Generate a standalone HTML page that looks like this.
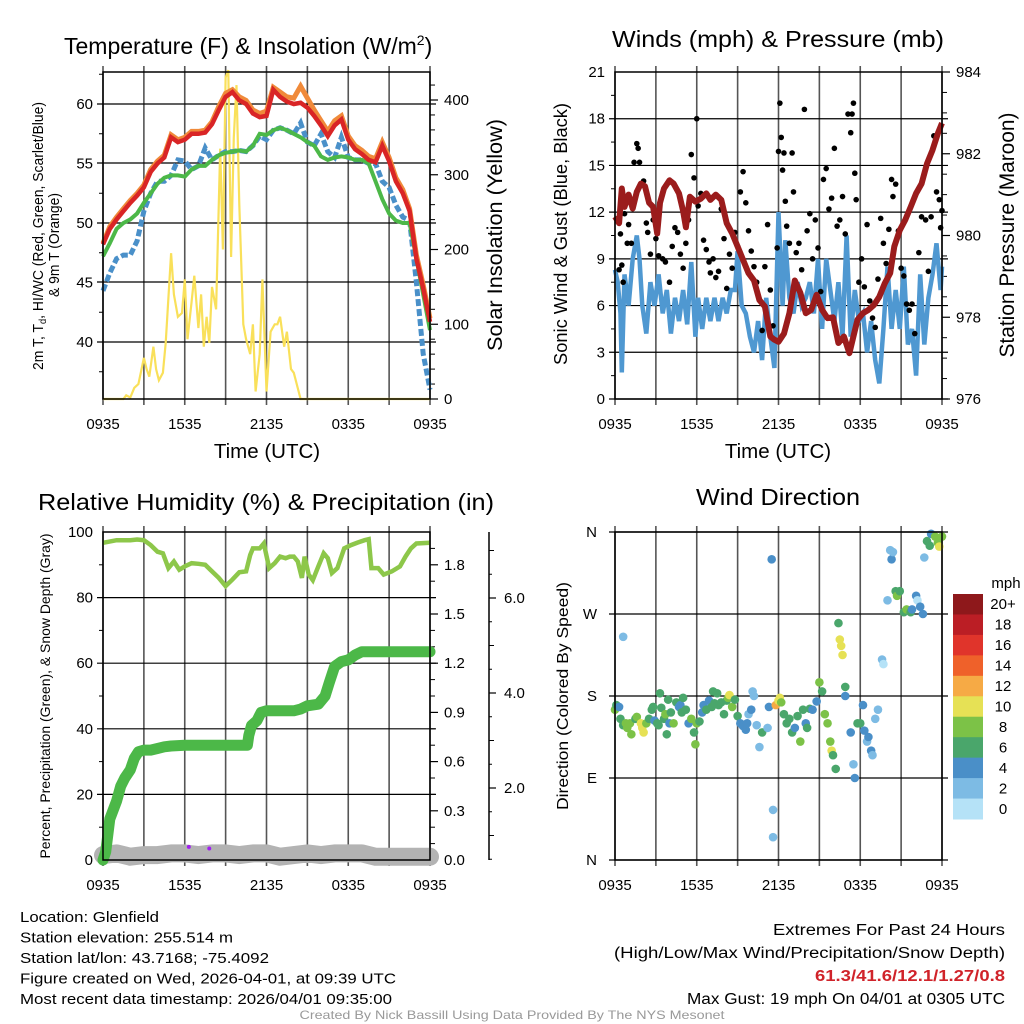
<!DOCTYPE html>
<html><head><meta charset="utf-8"><style>
body{margin:0;background:#fff;}
svg{display:block;font-family:"Liberation Sans",sans-serif;}
</style></head><body>
<svg id="c" width="1024" height="1024" viewBox="0 0 1024 1024"></svg>
<script>
// ---- data ----
const tempHours=[0,0.5,1,1.5,2,2.5,3,3.5,4,4.5,5,5.5,6,6.5,7,7.5,8,8.5,9,9.5,10,10.5,11,11.5,12,12.5,13,13.5,14,14.5,15,15.5,16,16.5,17,17.5,18,18.5,19,19.5,20,20.5,21,21.5,22,22.5,23,23.5,24];
const tempRed=[48.2,49.5,50.3,51,51.7,52.3,53,54.3,55,55.5,57.2,56.8,57,57.5,57.5,57.6,58.3,59.5,60.6,61,60.3,60,59.2,58.9,59,61.2,60.6,60.2,60,60.1,59.7,59,58.2,57.3,58.2,58.7,57,56.2,55.8,55.3,55.1,56.5,55.2,53.5,52.5,51,47,44.5,41.7];
const tempOrange=[48.3,49.7,50.5,51.2,51.9,52.5,53.2,54.5,55.2,55.7,57.4,57,57.2,57.7,57.7,57.8,58.5,59.8,60.9,61.2,60.6,60.3,59.5,59.2,59.4,61.4,61,60.6,60.5,61.5,60.5,59.5,58.6,57.7,58.6,59,57.3,56.5,56.1,55.6,55.4,56.8,55.5,53.8,52.8,51.2,47.3,44.8,42];
const tempGreen=[47.2,48.3,49.5,50,50.3,50.8,51.7,52.5,53.3,53.8,54,54,53.9,54.5,54.8,54.8,55.3,55.7,55.9,56,56.1,56,56.5,57.5,57.4,57.8,58,57.8,57.5,57.2,56.8,56.5,55.6,55.3,55.5,55.6,55.5,55.3,55.3,55,53.5,52,50.8,50.2,50,50,47,44,41];
const tempBlue=[44.3,45.8,47,47.3,47.3,48.5,51,52.5,53.5,53.5,54,55.3,55.2,54.5,54.8,56.3,55.3,55.7,56,56,56.1,56,56.5,57.3,57,57.8,58,57.8,57.5,58.4,56.8,56.5,57.5,56,55.5,57.2,55.5,55.3,55.3,55,55,53.5,53,51.5,50.5,50.2,45,39,36];
const solarHours=[0,1.5,1.7,2,2.3,2.6,3,3.2,3.4,3.7,3.9,4.1,4.4,4.6,5,5.2,5.5,5.8,6,6.2,6.5,6.7,7,7.2,7.4,7.6,7.8,8,8.3,8.6,8.8,9,9.2,9.4,9.6,9.8,10,10.3,10.5,10.8,11,11.2,11.5,11.7,12,12.3,12.6,12.8,13,13.3,13.5,13.8,14,14.5,24];
const solarValues=[0,0,5,2,15,20,55,40,30,70,40,25,35,75,195,140,110,115,160,80,130,165,95,140,70,110,75,150,120,335,200,430,440,190,350,420,260,100,80,60,100,10,60,160,10,90,100,100,110,70,90,40,35,0,0];
const windHours=[0,0.2,0.4,0.5,0.7,1,1.3,1.6,1.8,2,2.3,2.6,2.9,3.2,3.5,3.8,4.1,4.4,4.7,5,5.3,5.6,5.9,6.1,6.4,6.7,7,7.3,7.6,7.9,8.2,8.5,8.8,9,9.3,9.6,9.9,10.2,10.5,10.8,11.1,11.4,11.7,12,12.3,12.5,12.8,13.1,13.4,13.7,14,14.3,14.6,14.9,15.2,15.5,15.8,16.1,16.4,16.7,17,17.3,17.6,17.9,18.2,18.5,18.8,19.1,19.4,19.7,20,20.3,20.6,20.9,21.2,21.5,21.8,22.1,22.4,22.7,23,23.3,23.6,23.9,24];
const windSpeed=[8.3,7.5,5.5,1.7,8,6,9,10.5,9,6,4.2,7.5,6,8,5.5,7,4.2,6.5,5,7,4.8,8.8,4,6.5,4.5,6.5,5,6.5,5,6.5,5.5,7,7,9.5,6,5.5,4,3,5,2.5,6.5,4,2,12,6,10.2,6.5,5.5,7.5,6,6.5,7.5,5.5,9,4.5,9,7,5,7.5,4,10.5,4,7,5,5.5,3,5,2.5,1,4.5,8.5,4.5,7,4.5,8.5,3.5,4.5,1.5,8,3.5,6.5,8,10,7,8.5];
const presHours=[0,0.3,0.5,0.7,1,1.3,1.6,1.9,2.2,2.5,2.8,3.1,3.3,3.6,4,4.3,4.7,5,5.2,5.5,5.9,6.3,6.7,7,7.4,7.8,8.2,8.6,9,9.4,9.8,10.2,10.6,11,11.4,11.7,12,12.4,12.8,13.2,13.6,14,14.4,14.8,15.2,15.6,16,16.4,16.8,17.2,17.5,17.8,18.2,18.6,19,19.4,19.8,20.2,20.5,20.9,21.3,21.7,22.1,22.5,22.9,23.3,23.7,24];
const presValues=[980.46,980.3,981.15,980.7,981.0,980.66,981.07,981.27,981.2,980.8,980.7,980.05,980.8,981.15,981.35,981.27,981.03,980.6,980.2,980.95,980.83,980.9,981.03,980.87,981.0,980.87,980.3,980.05,979.73,979.4,979.08,978.9,978.42,978.26,977.53,977.45,977.4,977.6,978.1,978.9,978.6,978.1,978.18,978.55,978.18,977.98,978.0,977.37,977.53,977.12,977.53,977.94,978.1,978.18,978.3,978.5,978.83,979.08,979.73,980.13,980.38,980.7,981.03,981.27,981.76,982.09,982.5,982.75];
const gustHours=[0.3,0.4,0.5,0.6,0.7,0.9,1.0,1.2,1.4,1.6,1.7,1.8,1.9,2.1,2.3,2.4,2.6,2.8,3.0,3.2,3.5,3.7,4.0,4.2,4.4,4.6,4.8,5.0,5.2,5.4,5.6,5.8,6.0,6.1,6.3,6.5,6.7,6.9,7.0,7.2,7.4,7.6,7.8,8.0,8.2,8.4,8.6,8.8,9.0,9.2,9.4,9.6,9.8,10.0,10.2,10.4,10.6,10.8,11.0,11.2,11.4,11.6,11.9,12.0,12.1,12.2,12.3,12.4,12.5,12.6,12.8,13.0,13.1,13.3,13.5,13.7,13.9,14.1,14.3,14.5,14.7,14.9,15.1,15.3,15.5,15.7,15.9,16.1,16.3,16.5,16.7,16.9,17.1,17.3,17.4,17.5,17.6,17.7,17.9,18.1,18.3,18.5,18.7,18.9,19.1,19.3,19.5,19.7,19.9,20.1,20.3,20.4,20.6,20.8,21.0,21.2,21.4,21.6,21.8,22.0,22.3,22.5,22.8,23.0,23.2,23.4,23.6,23.8,24.0,23.9];
const gustSpeed=[8.3,10.6,8.6,7.5,11.9,10,11.2,10,15.2,16.4,16.1,15.2,13.8,14,11.3,10.7,9.3,11.5,10.3,9.2,9,8.8,7.5,9.8,11,10.7,9.3,8.4,10,11.5,15.7,14.2,18,12.4,13.2,10.2,9.6,8.8,8.1,9,7.8,8.2,12.2,10.3,7.1,9.3,8.4,10.7,9.8,13.3,14.6,12.6,10.8,9.5,8.5,7.5,6.4,4.4,8.5,11.2,7,4.7,9.7,15.9,19,16.8,14.7,15.8,12.7,11.1,10,15.8,13.3,9.4,10,8.3,18.6,10.8,11.9,9,11.5,9.7,6.9,14.1,14.8,12.2,12.9,16.1,11.1,11.5,13,10.6,18.3,17.1,18.3,19,14.5,12.8,7.5,9,7.2,11.2,6.3,5.2,4.6,7.7,11.6,10,8.7,10.9,14.1,13,13.8,10.8,8.4,7.9,6.1,5.7,6.1,4.2,9.4,11.7,11.5,8.2,11.7,16.9,13.3,12.8,12.1,11];
const rhHours=[0,1,2,2.5,3,3.5,4,4.4,4.8,5.2,5.6,6,6.5,7,7.5,8,8.5,9,9.5,10,10.5,10.8,11,11.5,11.8,12.2,12.6,13,13.4,13.7,14,14.3,14.6,14.8,15.1,15.4,15.8,16.2,16.5,16.8,17.2,17.7,18.2,18.7,19.2,19.5,19.7,20.2,20.6,21.2,21.8,22.2,22.6,23,24];
const rhValues=[96.7,97.5,97.5,97.7,97.5,96,94,93.5,89,91,88.5,89.5,90.5,90.3,90,88,86,83.5,85.5,87.7,88,93,95,95,96.5,89,90.5,92.5,92,92.5,92.5,91,86,92.5,87,85.3,89.5,93.5,92,87.5,89,95,96,96.8,97.5,97.8,89,89,87,88,89.5,92.5,95,96.5,96.7];
const precipHours=[0,0.2,0.5,1,1.3,1.6,2,2.3,2.6,3,3.5,4,4.5,5,6,7,8,9,10,10.6,10.7,10.9,11.3,11.6,12,13,14,14.5,15,15.8,16.3,16.6,17,17.5,18,18.5,19,20,24];
const precipValues=[0,0.05,0.25,0.36,0.45,0.5,0.55,0.62,0.66,0.67,0.67,0.68,0.69,0.695,0.7,0.7,0.7,0.7,0.7,0.7,0.76,0.82,0.85,0.9,0.91,0.91,0.91,0.92,0.94,0.95,1.0,1.08,1.18,1.21,1.22,1.25,1.27,1.27,1.27];
const snowHours=[0,1,2,3,4,5,6,7,8,9,10,11,12,13,14,15,16,17,18,19,20,21,22,23,24];
const snowValues=[0.03,0.04,0.02,0.03,0.03,0.04,0.04,0.03,0.04,0.04,0.03,0.04,0.04,0.02,0.03,0.04,0.03,0.04,0.04,0.04,0.02,0.02,0.02,0.02,0.02];
const purpleHours=[6.3,7.8];
const purpleValues=[4,3.5];
const dirHours=[0.0,0.1,0.3,0.4,0.6,0.8,0.9,1.1,1.2,1.5,1.6,1.9,2.0,2.1,2.3,2.5,2.7,2.8,2.9,3.1,3.2,3.3,3.4,3.6,3.7,3.8,3.9,4.0,4.1,4.3,4.5,4.7,4.8,4.9,5.0,5.2,5.4,5.6,5.8,5.9,6.0,6.2,6.4,6.5,6.7,6.9,7.1,7.2,7.3,7.5,7.6,7.8,8.0,8.2,8.3,8.4,8.6,8.8,9.0,9.2,9.4,9.6,9.7,9.8,10.0,10.1,10.2,10.4,10.6,10.8,11.2,11.3,11.5,11.6,11.6,11.8,12.0,12.1,12.2,12.4,12.6,12.8,13.0,13.2,13.4,13.6,13.8,14.0,14.1,14.3,14.5,14.8,15.0,15.2,15.4,15.6,15.8,15.9,16.0,16.2,16.4,16.5,16.6,16.7,16.9,16.9,17.3,17.5,17.6,17.8,18.0,18.2,18.3,18.5,18.6,18.8,18.9,19.1,19.3,19.6,19.7,20.0,20.2,20.3,20.4,20.6,20.7,20.9,21.2,21.4,21.7,21.8,22.1,22.2,22.4,22.6,22.7,22.9,23.1,23.2,23.5,23.7,23.8,24.0,0.6];
const dirDegrees=[165,170,168,155,148,150,145,150,138,155,157,150,145,140,150,155,165,168,153,150,148,183,167,155,160,138,176,150,162,150,173,168,170,162,178,165,150,155,140,127,150,152,162,170,165,175,168,185,172,183,170,173,160,175,178,181,168,176,158,150,147,143,150,160,165,185,180,148,124,140,145,168,330,55,25,170,175,178,173,160,150,155,140,145,158,130,165,150,145,166,165,174,195,185,160,150,130,120,115,100,260,242,235,225,190,180,140,105,90,150,150,170,142,130,135,120,115,155,165,220,215,285,340,330,338,295,290,295,272,275,272,275,290,285,278,270,332,350,345,358,355,348,344,355,245];
const dirSpeed=[8,6,4,6,6,8,8,8,8,6,8,10,10,10,8,6,6,6,4,6,6,6,6,6,8,6,6,4,6,8,6,4,4,6,6,6,4,8,6,8,8,6,4,4,6,4,6,6,6,6,6,6,6,6,8,10,8,6,6,4,4,4,4,2,4,2,2,2,2,6,2,4,4,2,2,12,10,10,8,6,6,6,6,4,6,8,6,4,6,6,4,4,8,6,8,8,8,10,6,6,6,10,10,10,6,4,4,2,4,6,6,4,4,2,4,4,2,2,2,2,0,2,2,4,2,6,8,6,6,8,6,4,4,0,4,4,2,6,6,4,8,8,10,8,2];
const cbLabels=["0","2","4","6","8","10","12","14","16","18","20+"];
const cbColors=["#b5e2f7","#7dbbe4","#4a8fc8","#4aa66b","#7cc247","#e6e155","#f6aa45","#ef612a","#e0342b","#bb1e25","#8e181b"];
const xTickLabels=["0935","1535","2135","0335","0935"];

// ---- helpers ----
const NS="http://www.w3.org/2000/svg";
const svg=document.getElementById('c');
function mk(tag,attrs,parent){const e=document.createElementNS(NS,tag);for(const k in attrs)e.setAttribute(k,attrs[k]);(parent||svg).appendChild(e);return e;}
function txt(s,x,y,size,anchor,extra,parent){const e=mk('text',Object.assign({x:x,y:y,'font-size':size,'text-anchor':anchor||'start',fill:'#000'},extra||{}),parent);e.textContent=s;return e;}
function lin(d0,d1,p0,p1){return v=>p0+(v-d0)/(d1-d0)*(p1-p0);}
function pathD(xs,ys,fx,fy){return xs.map((h,i)=>(i?'L':'M')+fx(h).toFixed(1)+','+fy(ys[i]).toFixed(1)).join('');}

const X0=103,X1=430,X0b=615,X1b=942;
function panel(name){
  const g=mk('g',{});
  
  
  return g;
}
function vgrid(g,x0,x1,y0,y1){
  for(let i=0;i<=8;i++){const x=x0+(x1-x0)*i/8;
    const l=mk('line',{x1:x,x2:x,y1:y0-6,y2:y1+6,stroke:'#555','stroke-width':1.6},g);
    
    }
  xTickLabels.forEach((s,i)=>{const t=txt(s,x0+(x1-x0)*i/4,y1+30,15,'middle',{},g);
    
    });
}
function hgrid(g,x0,x1,ys){ys.forEach(y=>{const l=mk('line',{x1:x0-6,x2:x1+6,y1:y,y2:y,stroke:'#000','stroke-width':1.2},g);
  
  });}
function leftTicks(g,x,vals,fy,minor){
  vals.forEach((v,i)=>{const t=txt(String(v),x-10,fy(v)+5,15,'end',{},g);
    
    });
  (minor||[]).forEach(v=>mk('line',{x1:x-4,x2:x,y1:fy(v),y2:fy(v),stroke:'#000','stroke-width':1},g));
}
function rightTicks(g,x,vals,fy,labels,minor){
  vals.forEach((v,i)=>{mk('line',{x1:x,x2:x+8,y1:fy(v),y2:fy(v),stroke:'#000','stroke-width':1.2},g);
    const t=txt(labels[i],x+14,fy(v)+5,15,'start',{},g);
    
    });
  (minor||[]).forEach(v=>mk('line',{x1:x,x2:x+5,y1:fy(v),y2:fy(v),stroke:'#000','stroke-width':1},g));
}
function frame(g,x0,x1,y0,y1){mk('rect',{x:x0,y:y0,width:x1-x0,height:y1-y0,fill:'none',stroke:'#000','stroke-width':1.5},g);}
function rotText(s,x,y,size,name,len){const ex={transform:`rotate(-90 ${x} ${y})`};if(len){ex.textLength=len;ex.lengthAdjust='spacingAndGlyphs';}
  const t=txt(s,x,y,size,'middle',ex);
  
  return t;}
function title(s,x,y,len,name){const t=txt(s,x,y,23,'middle',{textLength:len,lengthAdjust:'spacingAndGlyphs'});
  
  return t;}

// ===== Panel 1: Temperature =====
{
const y0=72,y1=399;
const g=panel('temperature-panel');
const fx=lin(0,24,X0,X1), fy=lin(40,60,342,104), fs=lin(0,400,399,100);
vgrid(g,X0,X1,y0,y1); hgrid(g,X0,X1,[104,163,223,282,342]);
leftTicks(g,X0,[40,45,50,55,60],fy,[37.5,42.5,47.5,52.5,57.5,62.5]);
const mm=[]; for(let v=20;v<=420;v+=20) if(v%100) mm.push(v);
rightTicks(g,X1,[0,100,200,300,400],fs,["0","100","200","300","400"],mm);
let p=mk('path',{d:pathD(solarHours,solarValues,fx,fs),fill:'none',stroke:'#f9e05a','stroke-width':2.2},g);


p=mk('path',{d:pathD(tempHours,tempBlue,fx,fy),fill:'none',stroke:'#4a90c9','stroke-width':5,'stroke-dasharray':'7 3'},g);


p=mk('path',{d:pathD(tempHours,tempGreen,fx,fy),fill:'none',stroke:'#4cb848','stroke-width':4},g);


p=mk('path',{d:pathD(tempHours,tempOrange,fx,fy),fill:'none',stroke:'#f08a3a','stroke-width':5},g);


p=mk('path',{d:pathD(tempHours,tempRed,fx,fy),fill:'none',stroke:'#d92526','stroke-width':4.5},g);


frame(g,X0,X1,y0,y1);
const t=mk('text',{x:64,y:54,'font-size':23,fill:'#000'});
t.innerHTML='Temperature (F) &amp; Insolation (W/m<tspan font-size="14" dy="-9">2</tspan><tspan dy="9">)</tspan>';


let a=txt('Time (UTC)',267,458,20.5,'middle');


const yt=mk('text',{x:0,y:0,'font-size':15,'text-anchor':'middle',fill:'#000',transform:'translate(43 236) rotate(-90)',textLength:268,lengthAdjust:'spacingAndGlyphs'});


yt.innerHTML='2m T, T<tspan font-size="10" dy="3">d</tspan><tspan dy="-3">, HI/WC (Red, Green, Scarlet/Blue)</tspan>';
const yt2=txt('& 9m T (Orange)',0,0,15,'middle',{transform:'translate(59 245) rotate(-90)',textLength:104,lengthAdjust:'spacingAndGlyphs'});


rotText('Solar Insolation (Yellow)',502,235,21,'y-axis-title-solar',232);
}

// ===== Panel 2: Winds =====
{
const y0=72,y1=399;
const g=panel('winds-panel');
const fx=lin(0,24,X0b,X1b), fy=lin(0,21,399,72), fp=lin(976,984,399,72);
vgrid(g,X0b,X1b,y0,y1); hgrid(g,X0b,X1b,[0,3,6,9,12,15,18].map(fy));
leftTicks(g,X0b,[0,3,6,9,12,15,18,21],fy,[1.5,4.5,7.5,10.5,13.5,16.5,19.5]);
const mm=[]; for(let v=976.5;v<984;v+=0.5) if(v%2) mm.push(v);
rightTicks(g,X1b,[976,978,980,982,984],fp,["976","978","980","982","984"],mm);
let p=mk('path',{d:pathD(windHours,windSpeed,fx,fy),fill:'none',stroke:'#4f98d1','stroke-width':4.5},g);


gustHours.forEach((h,i)=>{const c=mk('circle',{cx:fx(h),cy:fy(gustSpeed[i]),r:2.8,fill:'#000'},g);
  
  });
p=mk('path',{d:pathD(presHours,presValues,fx,fp),fill:'none',stroke:'#9b1c1c','stroke-width':6,'stroke-linejoin':'round'},g);


frame(g,X0b,X1b,y0,y1);
title('Winds (mph) & Pressure (mb)',778,47,332,'winds-title');
let t=txt('Time (UTC)',778,458,20.5,'middle');


rotText('Sonic Wind & Gust (Blue, Black)',567,234,18,'y-axis-title-wind',262);
rotText('Station Pressure (Maroon)',1014,235,21,'y-axis-title-pressure',245);
}

// ===== Panel 3: RH / Precip =====
{
const y0=532,y1=860;
const g=panel('humidity-panel');
const fx=lin(0,24,X0,X1), fy=lin(0,100,860,532), fi=lin(0,2,860,532);
vgrid(g,X0,X1,y0,y1); hgrid(g,X0,X1,[0,20,40,60,80].map(fy));
leftTicks(g,X0,[0,20,40,60,80,100],fy,[10,30,50,70,90]);
const mm=[]; for(let i=1;i<20;i++) if(i%3) mm.push(i*0.1);
rightTicks(g,X1,[0,0.3,0.6,0.9,1.2,1.5,1.8],fi,["0.0","0.3","0.6","0.9","1.2","1.5","1.8"],mm);
mk('line',{x1:489,x2:489,y1:532,y2:860,stroke:'#000','stroke-width':1.5},g);
const fsn=lin(2,6,788,598);
[2,4,6].forEach(v=>{mk('line',{x1:489,x2:496,y1:fsn(v),y2:fsn(v),stroke:'#000','stroke-width':1.2},g);
  const t=txt(v.toFixed(1),504,fsn(v)+5,15,'start',{},g);
  
  });
[1,3,5,7].forEach(v=>{if(fsn(v)>532)mk('line',{x1:489,x2:494,y1:fsn(v),y2:fsn(v),stroke:'#000'},g);});
[0.5,1.5,2.5,3.5,4.5,5.5,6.5].forEach(v=>{if(fsn(v)>532&&fsn(v)<860)mk('line',{x1:489,x2:492,y1:fsn(v),y2:fsn(v),stroke:'#000'},g);});
let p=mk('path',{d:pathD(snowHours,snowValues,fx,fi),fill:'none',stroke:'#b3b3b3','stroke-width':18,'stroke-linecap':'round','stroke-linejoin':'round'},g);


purpleHours.forEach((h,i)=>{const c=mk('circle',{cx:fx(h),cy:fy(purpleValues[i]),r:2,fill:'#a020f0'},g);
  
  });
p=mk('path',{d:pathD(precipHours,precipValues,fx,fi),fill:'none',stroke:'#4cb848','stroke-width':11,'stroke-linecap':'round','stroke-linejoin':'round'},g);


p=mk('path',{d:pathD(rhHours,rhValues,fx,fy),fill:'none',stroke:'#8dc74a','stroke-width':4.5},g);


frame(g,X0,X1,y0,y1);
title('Relative Humidity (%) & Precipitation (in)',266,510,456,'humidity-title');
rotText('Percent, Precipitation (Green), & Snow Depth (Gray)',50,696,14,'y-axis-title-humidity',325);
}

// ===== Panel 4: Wind direction =====
{
const y0=532,y1=860;
const g=panel('wind-direction-panel');
const fx=lin(0,24,X0b,X1b), fy=lin(0,360,860,532);
vgrid(g,X0b,X1b,y0,y1); hgrid(g,X0b,X1b,[0,90,180,270,360].map(fy));
[["N",0],["E",90],["S",180],["W",270],["N",360]].forEach(([s,v])=>{const t=txt(s,597,fy(v)+5,15,'end',{},g);
  
  });
dirHours.forEach((h,i)=>{const c=mk('circle',{cx:fx(h),cy:fy(dirDegrees[i]),r:4.3,fill:cbColors[Math.min(10,Math.round(dirSpeed[i]/2))]},g);
  
  });
frame(g,X0b,X1b,y0,y1);
title('Wind Direction',778,505,164,'wind-direction-title');
rotText('Direction (Colored By Speed)',568,696,16,'y-axis-title-direction',228);
const cb=mk('g',{});


const bh=(819-594)/11;
cbColors.forEach((c,i)=>{const k=10-i;
  mk('rect',{x:953,y:594+i*bh,width:30,height:bh+0.5,fill:cbColors[k]},cb);
  const l=txt(cbLabels[k],1003,594+i*bh+bh/2+5,15,'middle',{},cb);
  
  });
let t=txt('mph',1006,588,15,'middle',{},cb);


}

// ===== Footer text =====
const left=["Location: Glenfield","Station elevation: 255.514 m","Station lat/lon: 43.7168; -75.4092","Figure created on Wed, 2026-04-01, at 09:39 UTC","Most recent data timestamp: 2026/04/01 09:35:00"];
const leftW=[139,213,249,376,372];
left.forEach((s,i)=>{const t=txt(s,20,922+i*20.5,15,'start',{textLength:leftW[i],lengthAdjust:'spacingAndGlyphs'});
  
  });
const right=[["Extremes For Past 24 Hours",232,'#000'],["(High/Low/Max Wind/Precipitation/Snow Depth)",391,'#000'],["61.3/41.6/12.1/1.27/0.8",190,'#d0232a'],["Max Gust: 19 mph On 04/01 at 0305 UTC",318,'#000']];
right.forEach((r,i)=>{const t=txt(r[0],1005,935+i*23,15.5,'end',{fill:r[2],textLength:r[1],lengthAdjust:'spacingAndGlyphs','font-weight':i==2?'bold':'normal'});
  
  });
const cr=txt('Created By Nick Bassill Using Data Provided By The NYS Mesonet',512,1019,12,'middle',{fill:'#999',textLength:425,lengthAdjust:'spacingAndGlyphs'});


</script>
</body></html>
